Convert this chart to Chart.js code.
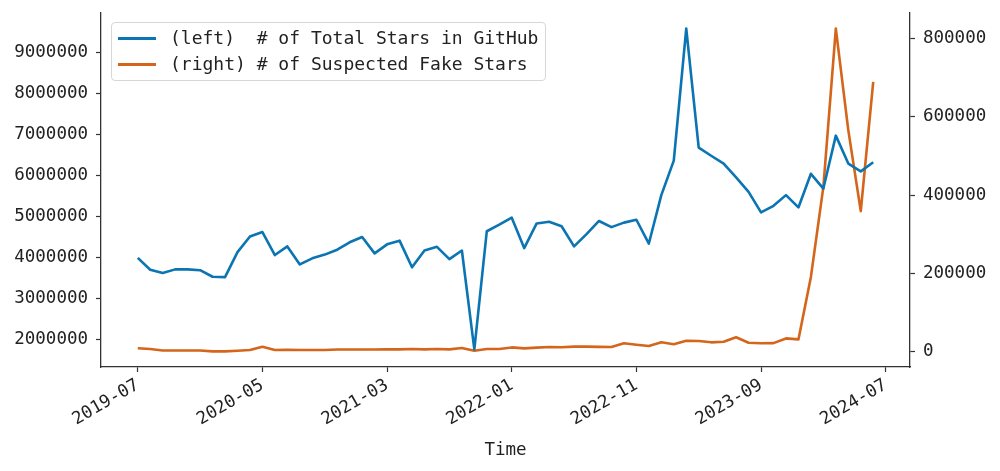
<!DOCTYPE html>
<html>
<head>
<meta charset="utf-8">
<script src="https://cdn.jsdelivr.net/npm/chart.js@4.4.0/dist/chart.umd.min.js"></script>
<style>
    html, body { margin: 0; padding: 0; background: #fff; }
    #wrap { position: relative; width: 1000px; height: 471px; }
    #legend {
        position: absolute; left: 111px; top: 22px; width: 433px; height: 57px;
        border: 1px solid #d6d6d6; border-radius: 4px; background: rgba(255,255,255,0.85);
        font-family: "DejaVu Sans Mono", monospace; font-size: 18px; color: #222;
    }
    #legend .row { position: absolute; left: 0; height: 24px; white-space: pre; }
    #legend .sw { position: absolute; left: 6px; top: 11px; width: 38px; height: 3px; }
    #legend .tx { position: absolute; left: 58px; top: 0; line-height: 24px; }
</style>
</head>
<body>
<div id="wrap">
    <canvas id="chart" width="1000" height="471"></canvas>
    <div id="legend"></div>
</div>
<script>
const months = [
    '2019-07','2019-08','2019-09','2019-10','2019-11','2019-12',
    '2020-01','2020-02','2020-03','2020-04','2020-05','2020-06','2020-07','2020-08','2020-09','2020-10','2020-11','2020-12',
    '2021-01','2021-02','2021-03','2021-04','2021-05','2021-06','2021-07','2021-08','2021-09','2021-10','2021-11','2021-12',
    '2022-01','2022-02','2022-03','2022-04','2022-05','2022-06','2022-07','2022-08','2022-09','2022-10','2022-11','2022-12',
    '2023-01','2023-02','2023-03','2023-04','2023-05','2023-06','2023-07','2023-08','2023-09','2023-10','2023-11','2023-12',
    '2024-01','2024-02','2024-03','2024-04','2024-05','2024-06'
];

// left axis: total stars
const totalStars = [
    4000000, 3710000, 3630000, 3720000, 3720000, 3700000,
    3540000, 3530000, 4140000, 4520000, 4630000, 4070000, 4280000, 3840000, 3990000, 4080000, 4200000, 4380000,
    4510000, 4110000, 4330000, 4420000, 3770000, 4180000, 4270000, 3970000, 4180000, 1770000, 4650000, 4810000,
    4980000, 4240000, 4840000, 4880000, 4770000, 4280000, 4580000, 4900000, 4750000, 4860000, 4930000, 4350000,
    5530000, 6370000, 9590000, 6690000, 6490000, 6300000, 5960000, 5610000, 5110000, 5270000, 5530000, 5230000,
    6050000, 5690000, 6980000, 6300000, 6110000, 6330000
];

// right axis: suspected fake stars
const fakeStars = [
    8700, 6900, 3000, 3000, 3000, 3000,
    1000, 1000, 2500, 4300, 12800, 4500, 5000, 4500, 4500, 4500, 5500, 5500,
    5500, 5500, 6000, 6000, 7000, 6000, 7000, 6000, 9500, 2500, 7000, 7000,
    11000, 8500, 10500, 12000, 11500, 13000, 13000, 12500, 12000, 21500, 18000, 14500,
    24000, 19000, 28000, 27500, 24000, 25500, 36800, 23000, 21500, 22000, 34000, 31500,
    191000, 421000, 825000, 566000, 359000, 689000
];

const xTickLabels = ['2019-07', '2020-05', '2021-03', '2022-01', '2022-11', '2023-09', '2024-07'];
const leftTicks = [2000000, 3000000, 4000000, 5000000, 6000000, 7000000, 8000000, 9000000];
const rightTicks = [0, 200000, 400000, 600000, 800000];

const seriesNames = ['(left)  # of Total Stars in GitHub', '(right) # of Suspected Fake Stars'];
const BLUE = '#0b74b2';
const ORANGE = '#d4651a';
const FONT = { family: '"DejaVu Sans Mono", monospace', size: 17.5 };

// month string -> index from the first month
function monthIndex(s) {
    const [y, m] = s.split('-').map(Number);
    const [y0, m0] = months[0].split('-').map(Number);
    return (y - y0) * 12 + (m - m0);
}

const pts = arr => arr.map((v, i) => ({ x: monthIndex(months[i]), y: v }));
const span = months.length - 1;

const tickGrid = { drawOnChartArea: false, drawTicks: true, tickLength: 5, tickColor: '#333', tickWidth: 1.2 };
const spine = { display: true, color: '#333', width: 1.3 };

new Chart(document.getElementById('chart'), {
    type: 'line',
    data: {
        datasets: [
            { label: seriesNames[0], data: pts(totalStars), yAxisID: 'yL', borderColor: BLUE, borderWidth: 2.6,
              pointRadius: 0, tension: 0, borderJoinStyle: 'round' },
            { label: seriesNames[1], data: pts(fakeStars), yAxisID: 'yR', borderColor: ORANGE, borderWidth: 2.6,
              pointRadius: 0, tension: 0, borderJoinStyle: 'round' }
        ]
    },
    options: {
        responsive: false,
        animation: false,
        layout: { padding: { top: 13, left: 0, right: 0, bottom: 0 } },
        plugins: { legend: { display: false }, tooltip: { enabled: false } },
        scales: {
            x: {
                type: 'linear',
                min: -0.05 * span, max: span * 1.05,
                grid: tickGrid, border: spine,
                afterBuildTicks: s => { s.ticks = xTickLabels.map(l => ({ value: monthIndex(l) })); },
                afterFit: s => { s.height = 104; s.paddingLeft = 0; s.paddingRight = 0; },
                ticks: {
                    font: FONT, color: '#222', padding: 3,
                    maxRotation: 30, minRotation: 30, autoSkip: false,
                    callback: (v, i) => xTickLabels[i]
                },
                title: { display: true, text: 'Time', font: FONT, color: '#222', padding: { top: 0, bottom: 10 } }
            },
            yL: {
                type: 'linear', position: 'left',
                min: 1340000, max: 9970000,
                grid: tickGrid, border: spine,
                afterBuildTicks: s => { s.ticks = leftTicks.map(v => ({ value: v })); },
                afterFit: s => { s.width = 101; s.paddingTop = 0; s.paddingBottom = 0; },
                ticks: { font: FONT, color: '#222', padding: 8, callback: v => String(v) }
            },
            yR: {
                type: 'linear', position: 'right',
                min: -39000, max: 865000,
                grid: tickGrid, border: spine,
                afterBuildTicks: s => { s.ticks = rightTicks.map(v => ({ value: v })); },
                afterFit: s => { s.width = 90; s.paddingTop = 0; s.paddingBottom = 0; },
                ticks: { font: FONT, color: '#222', padding: 8, callback: v => String(v) }
            }
        }
    }
});

// legend box drawn as html text over the plot
const legend = document.getElementById('legend');
[BLUE, ORANGE].forEach((c, i) => {
    legend.insertAdjacentHTML('beforeend',
        `<div class="row" style="top:${3 + i * 26}px">` +
        `<div class="sw" style="background:${c}"></div><div class="tx">${seriesNames[i]}</div></div>`);
});
</script>
</body>
</html>
